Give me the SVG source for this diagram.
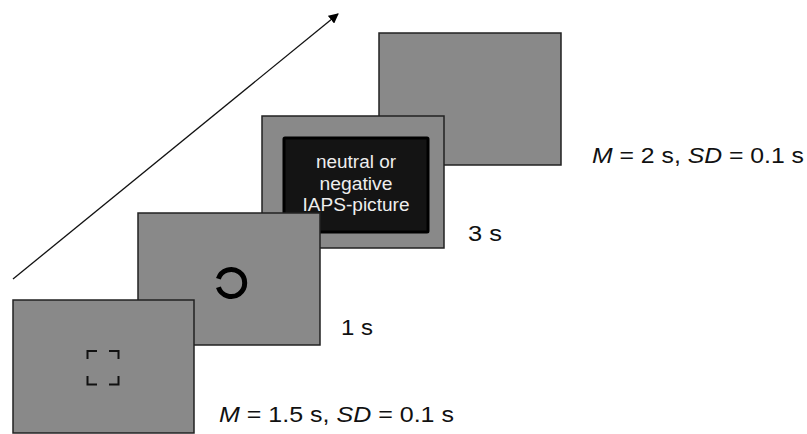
<svg xmlns="http://www.w3.org/2000/svg" width="807" height="434" viewBox="0 0 807 434">
<defs>
<style>
.screen{fill:#898989;stroke:#222;stroke-width:1.5}
.lbl{font-family:"Liberation Sans",Arial,sans-serif;font-size:22px;fill:#111}
.pic{font-family:"Liberation Sans",Arial,sans-serif;font-size:17.5px;fill:#eee;text-anchor:middle}
.mark{fill:none;stroke:#111;stroke-width:2}
</style>
<marker id="ah" markerWidth="10" markerHeight="10" refX="9" refY="5" orient="auto" markerUnits="userSpaceOnUse" viewBox="0 0 10 10">
<path d="M0,0 L10,5 L0,10 z" fill="#000"/>
</marker>
</defs>
<g id="connectors">
<line x1="13" y1="279" x2="338" y2="14" stroke="#111" stroke-width="1.3" marker-end="url(#ah)"/>
</g>
<g id="screen4">
<rect class="screen" x="379" y="33" width="182" height="132"/>
</g>
<g id="screen3">
<rect class="screen" x="262" y="116" width="182" height="132"/>
<rect x="284" y="138" width="144" height="94" fill="#141414" stroke="#000" stroke-width="3" rx="1"/>
<text class="pic" x="356" y="168" textLength="80" lengthAdjust="spacingAndGlyphs">neutral or</text>
<text class="pic" x="356" y="190" textLength="73" lengthAdjust="spacingAndGlyphs">negative</text>
<text class="pic" x="356" y="211" textLength="107" lengthAdjust="spacingAndGlyphs">IAPS-picture</text>
</g>
<g id="screen2">
<rect class="screen" x="138" y="213" width="182" height="132"/>
<path d="M218.4,278.7 A13.5,13.5 0 1 1 218.4,287.3" fill="none" stroke="#000" stroke-width="5"/>
</g>
<g id="screen1">
<rect class="screen" x="13" y="300" width="181" height="133"/>
<path class="mark" d="M97,351 H87.5 V359 M109,351 H118.5 V359 M87.5,376 V384.5 H97 M118.5,376 V384.5 H109"/>
</g>
<g id="labels">
<text class="lbl" x="592" y="163" textLength="212" lengthAdjust="spacingAndGlyphs"><tspan font-style="italic">M</tspan> = 2 s, <tspan font-style="italic">SD</tspan> = 0.1 s</text>
<text class="lbl" x="468" y="241" textLength="34" lengthAdjust="spacingAndGlyphs">3 s</text>
<text class="lbl" x="341" y="335" textLength="32" lengthAdjust="spacingAndGlyphs">1 s</text>
<text class="lbl" x="219" y="422" textLength="235" lengthAdjust="spacingAndGlyphs"><tspan font-style="italic">M</tspan> = 1.5 s, <tspan font-style="italic">SD</tspan> = 0.1 s</text>
</g>
</svg>
